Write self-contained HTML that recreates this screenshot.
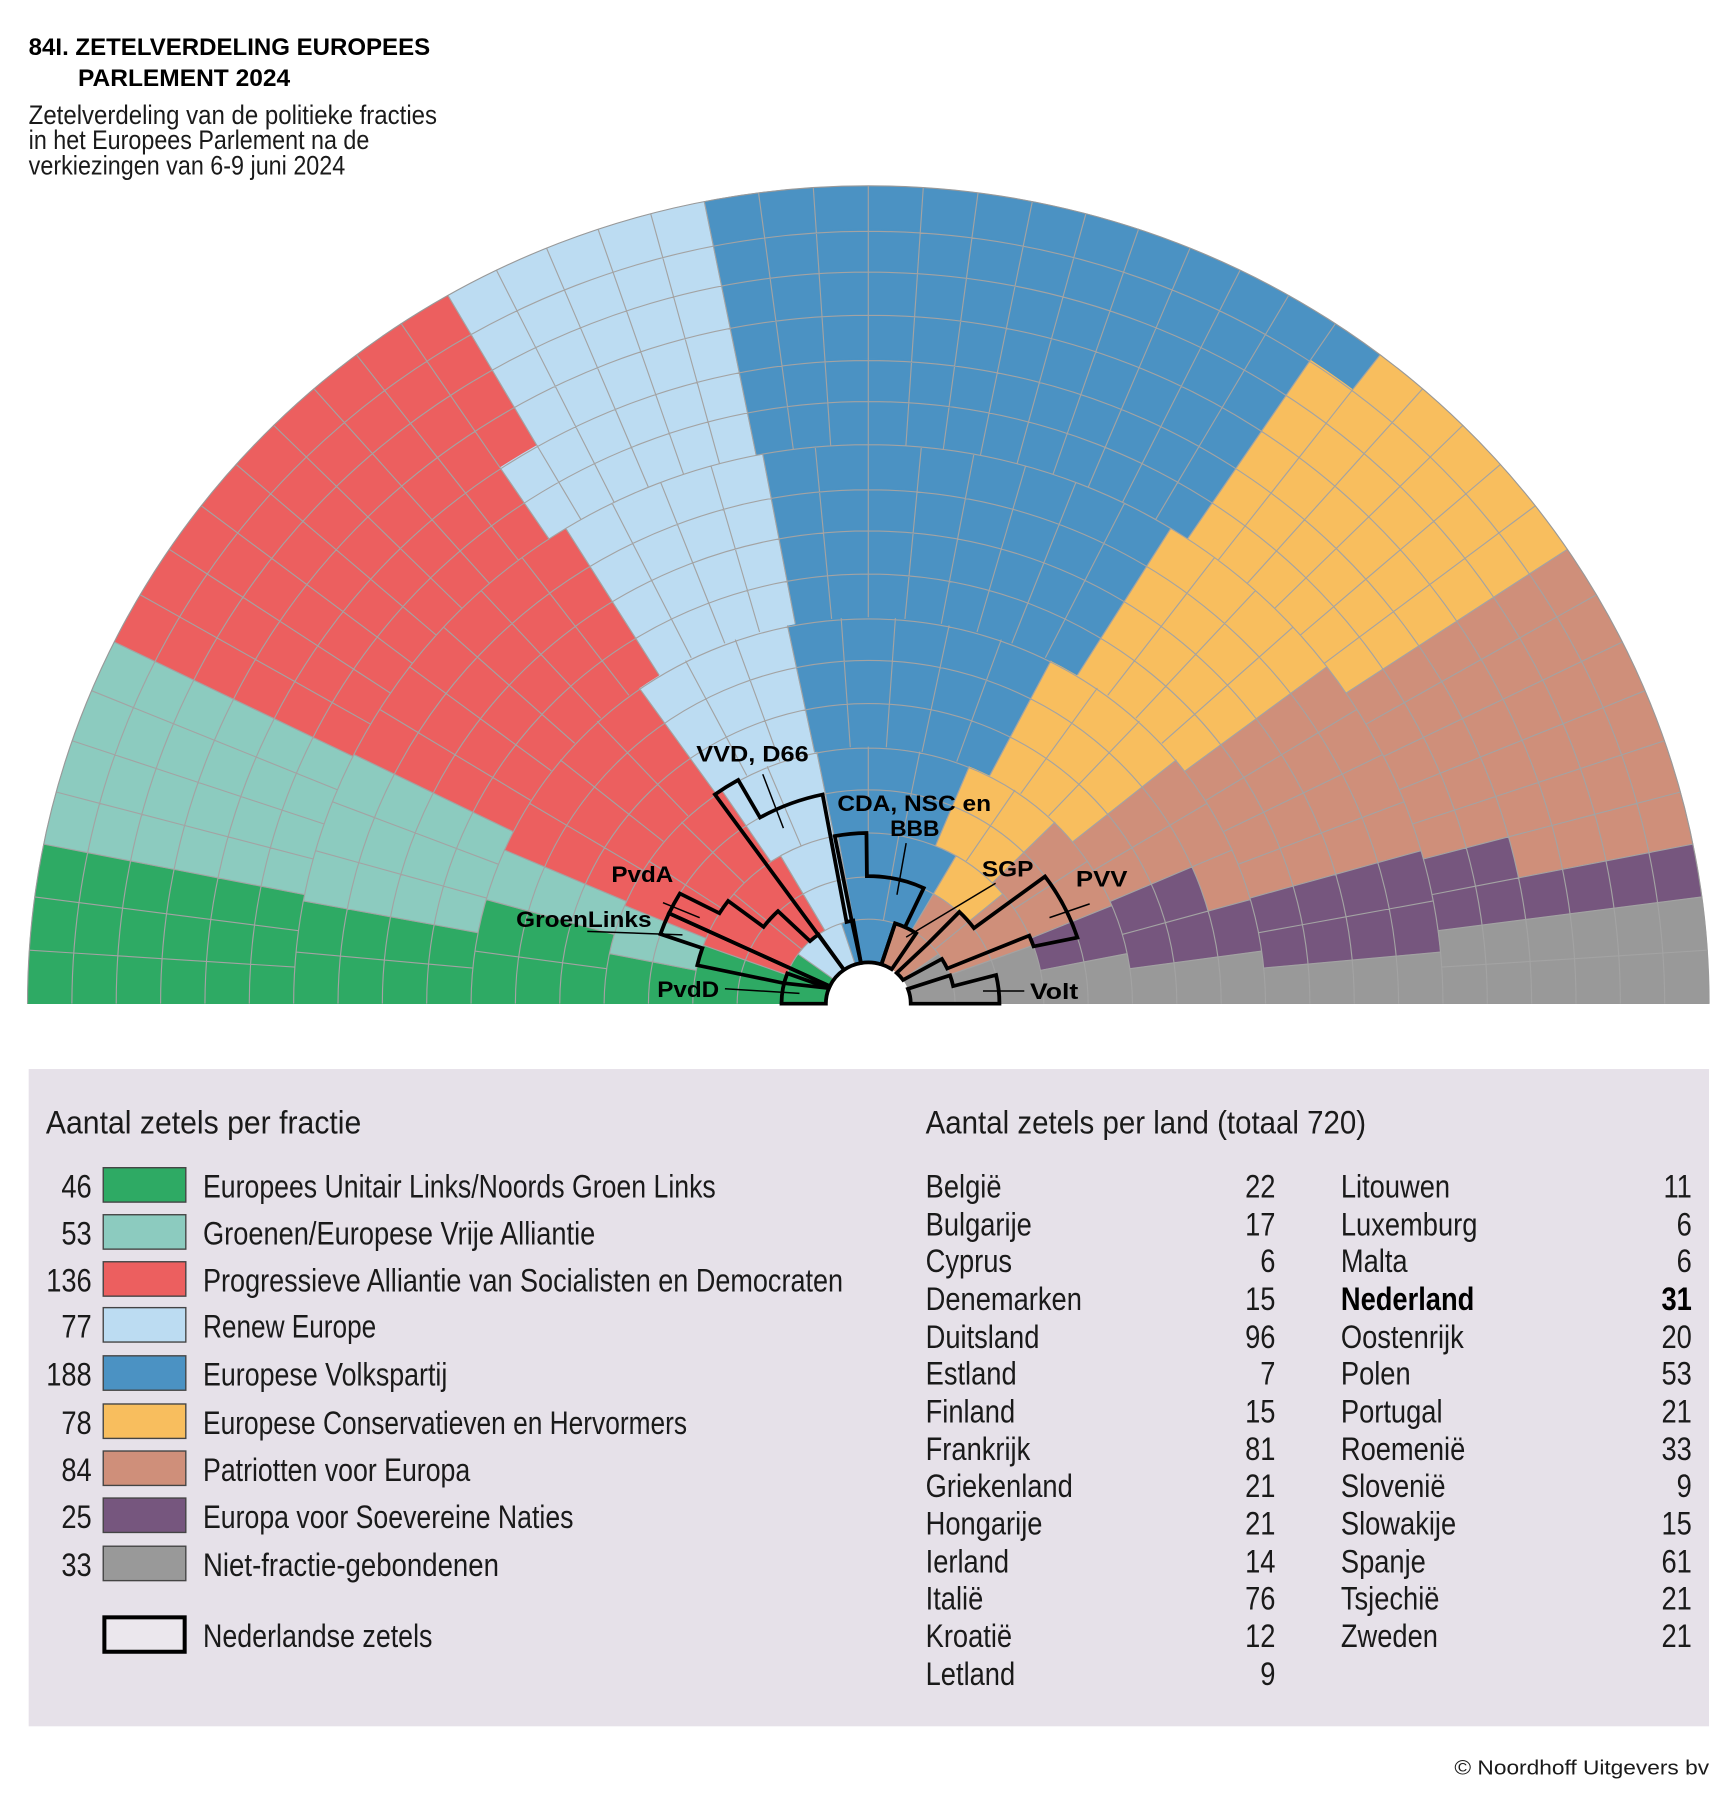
<!DOCTYPE html>
<html><head><meta charset="utf-8">
<style>
html,body{margin:0;padding:0;background:#fff;width:1732px;height:1798px;overflow:hidden}
svg{display:block}
.c{font-family:"Liberation Sans",sans-serif;fill:#1a1a1a}
.b{font-family:"Liberation Sans",sans-serif;font-weight:bold;fill:#000}
</style></head>
<body>
<svg id="s" xmlns="http://www.w3.org/2000/svg" width="1732" height="1798" viewBox="0 0 1510 1567.5" preserveAspectRatio="none">
<rect x="0" y="0" width="1510" height="1568" fill="#fff"/>
<g id="hemi" transform="translate(757,875) scale(1,0.9727)"></g>

<text class="b" x="25" y="48" font-size="21" textLength="350" lengthAdjust="spacingAndGlyphs">84I. ZETELVERDELING EUROPEES</text>
<text class="b" x="68" y="75" font-size="21" textLength="185" lengthAdjust="spacingAndGlyphs">PARLEMENT 2024</text>
<text class="c" x="25" y="108" font-size="23" textLength="356" lengthAdjust="spacingAndGlyphs">Zetelverdeling van de politieke fracties</text>
<text class="c" x="25" y="130" font-size="23" textLength="297" lengthAdjust="spacingAndGlyphs">in het Europees Parlement na de</text>
<text class="c" x="25" y="152" font-size="23" textLength="276" lengthAdjust="spacingAndGlyphs">verkiezingen van 6-9 juni 2024</text>

<g stroke="#000" stroke-width="1.3">
<line x1="665" y1="675" x2="683" y2="722"/>
<line x1="790" y1="735" x2="782" y2="780"/>
<line x1="868" y1="770" x2="790" y2="817"/>
<line x1="950" y1="788" x2="915" y2="800"/>
<line x1="578" y1="787" x2="610" y2="800"/>
<line x1="512" y1="812" x2="595" y2="815"/>
<line x1="632" y1="862" x2="697" y2="866"/>
<line x1="857" y1="864" x2="893" y2="864"/>
</g>
<g font-size="19">
<text class="b" x="607" y="664" textLength="98" lengthAdjust="spacingAndGlyphs">VVD, D66</text>
<text class="b" x="730" y="707" textLength="134" lengthAdjust="spacingAndGlyphs">CDA, NSC en</text>
<text class="b" x="776" y="729" textLength="43" lengthAdjust="spacingAndGlyphs">BBB</text>
<text class="b" x="856" y="764" textLength="45" lengthAdjust="spacingAndGlyphs">SGP</text>
<text class="b" x="938" y="773" textLength="45" lengthAdjust="spacingAndGlyphs">PVV</text>
<text class="b" x="533" y="769" textLength="54" lengthAdjust="spacingAndGlyphs">PvdA</text>
<text class="b" x="450" y="808" textLength="118" lengthAdjust="spacingAndGlyphs">GroenLinks</text>
<text class="b" x="573" y="869" textLength="54" lengthAdjust="spacingAndGlyphs">PvdD</text>
<text class="b" x="898" y="871" textLength="42" lengthAdjust="spacingAndGlyphs">Volt</text>
</g>

<rect x="25" y="932" width="1465" height="573" fill="#e6e1e9"/>
<text class="c" x="40" y="988" font-size="28" textLength="275" lengthAdjust="spacingAndGlyphs">Aantal zetels per fractie</text>
<text class="c" x="807" y="988" font-size="28" textLength="384" lengthAdjust="spacingAndGlyphs">Aantal zetels per land (totaal 720)</text>

<g stroke="#444" stroke-width="1.2">
<rect x="90" y="1018" width="72" height="30" fill="#2eaa64"/>
<rect x="90" y="1059" width="72" height="30" fill="#8ccbbf"/>
<rect x="90" y="1100" width="72" height="30" fill="#ec5f5f"/>
<rect x="90" y="1140" width="72" height="30" fill="#bcdcf2"/>
<rect x="90" y="1182" width="72" height="30" fill="#4b92c3"/>
<rect x="90" y="1224" width="72" height="30" fill="#f8be5e"/>
<rect x="90" y="1265" width="72" height="30" fill="#cf8f7a"/>
<rect x="90" y="1306" width="72" height="30" fill="#76567e"/>
<rect x="90" y="1348" width="72" height="30" fill="#999999"/>
</g>
<rect x="91" y="1410" width="70" height="30" fill="#ebe7ed" stroke="#000" stroke-width="3.5"/>

<g font-size="28">
<text class="c" x="177" y="1044" textLength="447" lengthAdjust="spacingAndGlyphs">Europees Unitair Links/Noords Groen Links</text>
<text class="c" x="177" y="1085" textLength="342" lengthAdjust="spacingAndGlyphs">Groenen/Europese Vrije Alliantie</text>
<text class="c" x="177" y="1126" textLength="558" lengthAdjust="spacingAndGlyphs">Progressieve Alliantie van Socialisten en Democraten</text>
<text class="c" x="177" y="1166" textLength="151" lengthAdjust="spacingAndGlyphs">Renew Europe</text>
<text class="c" x="177" y="1208" textLength="213" lengthAdjust="spacingAndGlyphs">Europese Volkspartij</text>
<text class="c" x="177" y="1250" textLength="422" lengthAdjust="spacingAndGlyphs">Europese Conservatieven en Hervormers</text>
<text class="c" x="177" y="1291" textLength="233" lengthAdjust="spacingAndGlyphs">Patriotten voor Europa</text>
<text class="c" x="177" y="1332" textLength="323" lengthAdjust="spacingAndGlyphs">Europa voor Soevereine Naties</text>
<text class="c" x="177" y="1374" textLength="258" lengthAdjust="spacingAndGlyphs">Niet-fractie-gebondenen</text>
<text class="c" x="177" y="1436" textLength="200" lengthAdjust="spacingAndGlyphs">Nederlandse zetels</text>
</g>

<g transform="scale(0.85,1)" font-size="28" text-anchor="end">
<text class="c" x="94.1" y="1044">46</text>
<text class="c" x="94.1" y="1085">53</text>
<text class="c" x="94.1" y="1126">136</text>
<text class="c" x="94.1" y="1166">77</text>
<text class="c" x="94.1" y="1208">188</text>
<text class="c" x="94.1" y="1250">78</text>
<text class="c" x="94.1" y="1291">84</text>
<text class="c" x="94.1" y="1332">25</text>
<text class="c" x="94.1" y="1374">33</text>
</g>

<g transform="scale(0.85,1)" font-size="28">
<g>
<text class="c" x="949.4" y="1044">België</text>
<text class="c" x="949.4" y="1077">Bulgarije</text>
<text class="c" x="949.4" y="1109">Cyprus</text>
<text class="c" x="949.4" y="1142">Denemarken</text>
<text class="c" x="949.4" y="1175">Duitsland</text>
<text class="c" x="949.4" y="1207">Estland</text>
<text class="c" x="949.4" y="1240">Finland</text>
<text class="c" x="949.4" y="1273">Frankrijk</text>
<text class="c" x="949.4" y="1305">Griekenland</text>
<text class="c" x="949.4" y="1338">Hongarije</text>
<text class="c" x="949.4" y="1371">Ierland</text>
<text class="c" x="949.4" y="1403">Italië</text>
<text class="c" x="949.4" y="1436">Kroatië</text>
<text class="c" x="949.4" y="1469">Letland</text>
</g>
<g text-anchor="end">
<text class="c" x="1308.2" y="1044">22</text>
<text class="c" x="1308.2" y="1077">17</text>
<text class="c" x="1308.2" y="1109">6</text>
<text class="c" x="1308.2" y="1142">15</text>
<text class="c" x="1308.2" y="1175">96</text>
<text class="c" x="1308.2" y="1207">7</text>
<text class="c" x="1308.2" y="1240">15</text>
<text class="c" x="1308.2" y="1273">81</text>
<text class="c" x="1308.2" y="1305">21</text>
<text class="c" x="1308.2" y="1338">21</text>
<text class="c" x="1308.2" y="1371">14</text>
<text class="c" x="1308.2" y="1403">76</text>
<text class="c" x="1308.2" y="1436">12</text>
<text class="c" x="1308.2" y="1469">9</text>
</g>
<g>
<text class="c" x="1375.3" y="1044">Litouwen</text>
<text class="c" x="1375.3" y="1077">Luxemburg</text>
<text class="c" x="1375.3" y="1109">Malta</text>
<text class="b" x="1375.3" y="1142">Nederland</text>
<text class="c" x="1375.3" y="1175">Oostenrijk</text>
<text class="c" x="1375.3" y="1207">Polen</text>
<text class="c" x="1375.3" y="1240">Portugal</text>
<text class="c" x="1375.3" y="1273">Roemenië</text>
<text class="c" x="1375.3" y="1305">Slovenië</text>
<text class="c" x="1375.3" y="1338">Slowakije</text>
<text class="c" x="1375.3" y="1371">Spanje</text>
<text class="c" x="1375.3" y="1403">Tsjechië</text>
<text class="c" x="1375.3" y="1436">Zweden</text>
</g>
<g text-anchor="end">
<text class="c" x="1735.3" y="1044">11</text>
<text class="c" x="1735.3" y="1077">6</text>
<text class="c" x="1735.3" y="1109">6</text>
<text class="b" x="1735.3" y="1142">31</text>
<text class="c" x="1735.3" y="1175">20</text>
<text class="c" x="1735.3" y="1207">53</text>
<text class="c" x="1735.3" y="1240">21</text>
<text class="c" x="1735.3" y="1273">33</text>
<text class="c" x="1735.3" y="1305">9</text>
<text class="c" x="1735.3" y="1338">15</text>
<text class="c" x="1735.3" y="1371">61</text>
<text class="c" x="1735.3" y="1403">21</text>
<text class="c" x="1735.3" y="1436">21</text>
</g>
</g>

<text class="c" x="1490" y="1547" font-size="18" text-anchor="end" textLength="222" lengthAdjust="spacingAndGlyphs">© Noordhoff Uitgevers bv</text>
</svg>
<script>
(function(){
var g=document.getElementById("hemi");
var cols=["#2eaa64","#8ccbbf","#ec5f5f","#bcdcf2","#4b92c3","#f8be5e","#cf8f7a","#76567e","#999999"];
var R0=37,ROWS=18,ROUT=733,DR=(ROUT-R0)/ROWS;
function R(k){return R0+k*DR;}
function pt(a,r){var t=a*Math.PI/180;return [(-r*Math.cos(t)).toFixed(2),(-r*Math.sin(t)).toFixed(2)];}
var anchors=[[0,[20,25,54,79,108,124,148,159]],[3,[13,24,54,78,115,135,156,166]],[9,[11.5,24,56,78,120,145,164,173.5]],[17,[10,27.4,60.2,78.2,126,146.5,169,171]]];
function bounds(i){
  for(var q=0;q<anchors.length-1;q++){
    var a=anchors[q],b=anchors[q+1];
    if(i>=a[0]&&i<=b[0]){var f=(i-a[0])/(b[0]-a[0]);return a[1].map(function(v,j){return v+(b[1][j]-v)*f;});}
  }
  return anchors[anchors.length-1][1];
}
function sector(a0,a1,r0,r1){
  var p1=pt(a0,r0),p2=pt(a0,r1),p3=pt(a1,r1),p4=pt(a1,r0);
  return "M"+p1+"L"+p2+"A"+r1+","+r1+" 0 0 1 "+p3+"L"+p4+"A"+r0+","+r0+" 0 0 0 "+p1+"Z";
}
var fills="",grid="",n=0;
for(var i=0;i<ROWS;i++){
  var r0=R(i),r1=R(i+1),rm=(r0+r1)/2;
  if(n==0||Math.PI*rm/n>48){n=Math.max(4,Math.round(Math.PI*rm/34));}
  var B=bounds(i);
  for(var j=0;j<n;j++){
    var a0=180*j/n,a1=180*(j+1)/n,ac=(a0+a1)/2,p=0;
    while(p<8&&ac>=B[p])p++;
    fills+='<path d="'+sector(a0,a1,r0,r1)+'" fill="'+cols[p]+'" stroke="'+cols[p]+'" stroke-width="0.6"/>';
    if(j>0){grid+="M"+pt(a0,r0)+"L"+pt(a0,r1);}
  }
}
for(var k=1;k<ROWS;k++){var r=R(k);grid+="M"+pt(0,r)+"A"+r+","+r+" 0 0 1 "+pt(180,r);}
var h=fills+'<path d="'+grid+'" fill="none" stroke="#a3a3a3" stroke-width="1"/>';
h+='<path d="M'+pt(0,ROUT)+'A'+ROUT+','+ROUT+' 0 0 1 '+pt(180,ROUT)+'" fill="none" stroke="#999" stroke-width="1"/>';
h+='<path d="M'+pt(0,R0)+'A'+R0+','+R0+' 0 0 1 '+pt(180,R0)+'Z" fill="#fff"/>';
var outl=[
 [[0,0],[0,1],[21,1],[22,0]],
 [[22,0],[14,1],[13,3],[19,3],[19,4],[25,4],[25,0]],
 [[25,0],[25,4],[31,4],[32,3],[37,3],[37,2],[46.5,2],[47.8,1],[55,1],[55,0]],
 [[55,0],[54.5,5],[60.5,5],[60.5,4],[78,4],[75.5,1],[80,1],[80,0]],
 [[80,0],[79,1],[79,3],[89.4,3],[89.4,2],[115,2],[115,1],[108,1],[108,0]],
 [[108,0],[108,1],[123.5,1],[123.5,0]],
 [[132,0],[134,1],[134,2],[143.7,2],[143.5,4],[162,4],[160.4,3],[156.5,3],[155.4,1],[148,1],[145,0]],
 [[159,0],[160.4,1],[168,1],[167,2],[180,2],[180,0]]
];
outl.forEach(function(P){
  var d="";
  for(var q=0;q<P.length;q++){
    var a=P[q],b=P[(q+1)%P.length];
    if(q==0)d+="M"+pt(a[0],R(a[1]));
    if(Math.abs(a[1]-b[1])<0.01&&a[1]>0){
      var r=R(a[1]);d+="A"+r+","+r+" 0 0 "+(b[0]>a[0]?1:0)+" "+pt(b[0],r);
    }else if(a[1]==0&&b[1]==0){
      d+="A"+R0+","+R0+" 0 0 "+(b[0]>a[0]?1:0)+" "+pt(b[0],R0);
    }else d+="L"+pt(b[0],R(b[1]));
  }
  h+='<path d="'+d+'Z" fill="none" stroke="#000" stroke-width="3.3" stroke-linejoin="miter"/>';
});
g.innerHTML=h;
})();
</script>
</body></html>
